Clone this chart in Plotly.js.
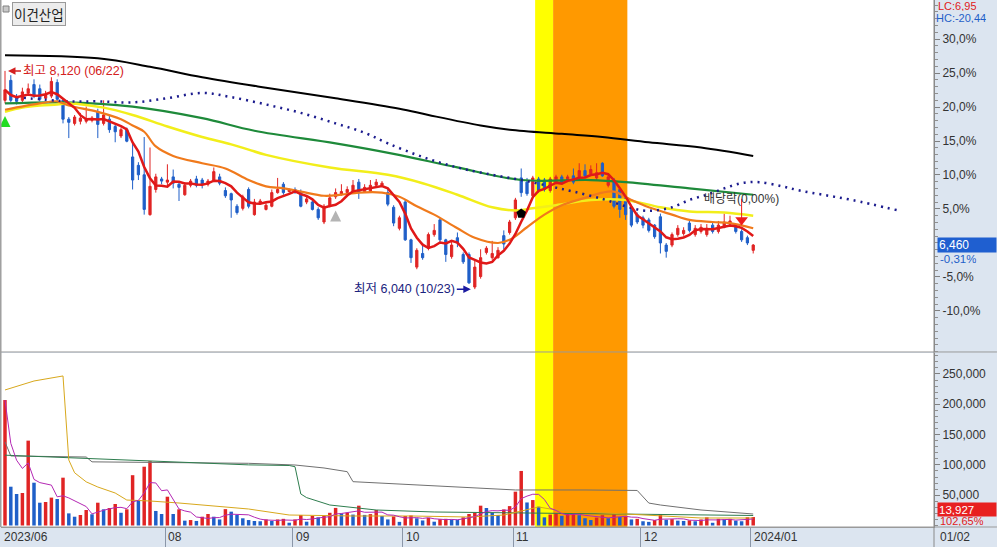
<!DOCTYPE html>
<html><head><meta charset="utf-8">
<script src="https://cdn.plot.ly/plotly-3.0.1.min.js"></script>
<style>html,body{margin:0;padding:0;background:#dce5f0;}#chart{width:997px;height:547px;}</style>
</head><body><div id="chart"></div>
<script>
// ---- data (daily candles, 2023-06-22 .. 2024-01-02, index 0..129) ----
const openP = [7840,8030,7870,7840,7910,7990,7950,7860,7880,8010,7840,7660,7620,7640,7640,7650,7730,7620,7660,7590,7500,7560,7300,7220,7130,6750,6990,7090,7060,7110,7040,6940,7030,7090,7080,7040,7080,7110,6980,6950,6830,6810,6990,6750,6860,6800,6830,6960,7040,6970,6990,6960,6870,6870,6800,6680,6840,6920,6940,6960,6960,7060,6970,6970,7030,7030,6960,6820,6620,6870,6510,6250,6380,6430,6560,6700,6510,6350,6530,6370,6370,6060,6160,6390,6340,6340,6550,6580,6720,7100,7060,6930,7090,7080,6980,7060,7110,7080,7120,7110,7170,7140,7100,7240,7030,7080,6990,6910,6820,6750,6720,6700,6650,6730,6460,6460,6560,6570,6670,6560,6590,6560,6650,6590,6630,6660,6640,6590,6530,6410];
const highP = [8120,8080,7900,7960,8000,8040,7990,7930,8060,8040,7860,7680,7700,7720,7780,7690,7760,7840,7690,7610,7580,7580,7430,7250,7490,7390,7140,7110,7230,7180,7060,7060,7090,7120,7100,7090,7200,7140,7010,6960,6850,6940,7010,6900,6900,6860,6990,7100,7060,7000,7010,6990,6920,6890,6820,6850,6950,7000,7040,7020,7080,7090,7040,7080,7090,7070,7000,6840,6740,6890,6520,6430,6480,6580,6660,6720,6520,6500,6580,6390,6390,6320,6420,6450,6500,6440,6600,6700,6910,7190,7100,7120,7110,7100,7110,7130,7130,7130,7190,7240,7230,7220,7240,7250,7130,7100,7000,6930,6840,6770,6740,6720,6660,6760,6480,6580,6650,6630,6690,6650,6660,6660,6680,6690,6760,6740,6660,6610,6550,6470];
const lowP = [7810,7820,7800,7810,7890,7860,7830,7840,7860,7830,7620,7480,7600,7610,7620,7630,7480,7600,7530,7440,7480,7440,6990,7080,6750,6740,6960,7040,7020,7000,6880,6930,7010,7010,7000,7020,7060,7030,6910,6720,6750,6790,6810,6740,6850,6790,6820,6950,6940,6960,6950,6820,6850,6790,6700,6660,6820,6900,6930,6950,6950,6900,6960,6960,7010,7020,6830,6640,6600,6500,6290,6230,6320,6410,6540,6490,6300,6330,6440,6280,6090,6040,6140,6370,6320,6330,6420,6560,6700,6920,6930,6920,6960,6970,6960,7040,7040,7060,7040,7100,7100,7120,7080,7110,7010,6810,6720,6700,6630,6660,6620,6580,6520,6380,6340,6440,6540,6550,6580,6540,6570,6540,6570,6570,6620,6640,6570,6490,6460,6380];
const closeP = [7940,7840,7830,7920,7950,7880,7850,7890,8020,7850,7660,7630,7680,7670,7660,7670,7610,7700,7560,7540,7560,7450,7080,7130,6800,7020,7110,7070,7080,7050,7010,7030,7070,7030,7040,7070,7160,7050,6930,6890,6770,6920,6830,6870,6880,6840,6960,6990,6960,6990,6960,6830,6900,6800,6720,6830,6910,6960,6970,6990,7030,6960,7010,7030,7060,7050,6850,6670,6720,6510,6340,6410,6340,6560,6600,6510,6370,6460,6480,6300,6100,6250,6340,6430,6380,6410,6470,6680,6890,6960,6950,7100,6980,6990,7090,7110,7060,7110,7060,7170,7120,7180,7150,7120,7110,6830,6800,6750,6650,6680,6650,6600,6540,6480,6400,6560,6620,6600,6600,6620,6630,6620,6590,6650,6680,6690,6590,6510,6480,6460];
const volume = [207000,64000,52000,53600,140000,70600,37600,38800,46000,43700,78900,20000,14500,17300,25600,18500,37600,26700,28900,35500,21000,26700,83000,41000,97000,106000,24000,19000,47500,19000,26700,8000,9000,7500,14500,19000,14500,10000,27000,22800,17300,11900,9000,7400,7000,10000,7400,10000,11000,4600,10000,17300,6300,15700,13500,15700,21000,29000,20000,21000,18000,32700,17500,18800,25600,15700,10000,15000,6000,15700,16500,11900,8300,12400,6300,10400,11000,10000,9500,13500,19000,21000,32700,28900,21000,17300,26500,32000,55800,90000,38000,42000,31000,13500,18000,20000,16000,19000,20000,17000,12000,9000,13000,17000,12000,18000,14000,15000,10000,11000,7000,6000,9000,19000,9500,10500,8000,7500,8500,7000,10000,13500,4500,11000,10000,11000,8000,7000,13600,13927];

// price moving averages (index, price)
const orangeIdx = [0,6,9,11,16,20,22,24,26,29,34,38,42,45,48,51,55,58,61,65,68,71,74,78,81,85,87,90,93,96,100,103,105,108,111,115,118,122,125,129];
const orangeVal = [7750,7810,7830,7790,7730,7660,7600,7540,7400,7310,7240,7190,7080,7020,7000,6970,6930,6940,6960,6960,6920,6830,6750,6620,6530,6480,6510,6630,6750,6840,6910,6960,6970,6890,6820,6750,6700,6680,6670,6620];
const yellowIdx = [0,3,6,9,11,17,22,28,34,39,42,45,56,66,72,78,84,88,91,95,101,107,113,118,124,129];
const yellowVal = [7730,7770,7790,7800,7810,7770,7700,7590,7490,7420,7370,7320,7200,7130,7050,6940,6820,6790,6810,6840,6890,6890,6820,6780,6770,6740];
const greenIdx = [0,10,22,34,43,57,67,78,89,101,107,118,129];
const greenVal = [7810,7820,7780,7670,7550,7430,7330,7200,7080,7080,7060,7000,6940];
const blackIdx = [0,16,25,34,45,57,68,73,82,87,96,103,111,120,129];
const blackVal = [8270,8240,8160,8060,7960,7860,7760,7700,7600,7560,7520,7490,7440,7390,7310];
const dotIdx = [2,11,16,22,28,34,39,45,51,57,62,66,72,78,84,89,94,98,103,107,110,112,115,118,121,124,127,130,134,137,141,146,154];
const dotVal = [7870,7830,7830,7820,7860,7910,7870,7800,7720,7620,7530,7430,7300,7200,7130,7080,7020,6970,6900,6830,6790,6790,6820,6890,6940,7000,7050,7060,7020,6980,6940,6890,6790];

// volume averages
const goldIdx = [0,3,5,10,11,12,14,16,19,21,25,30,34,39,42,49,60,70,80,86,89,92,95,100,107,113,120,129];
const goldVal = [223600,231800,238400,246700,108000,87000,72000,63500,53600,42000,40400,37100,33800,30500,27200,17300,15700,15700,14000,17300,24000,30500,25600,22300,19000,15700,12400,12400];
const gVolIdx = [0,14,42,49,50,51,52,56,64,74,89,110,129];
const gVolVal = [116000,111000,100000,99000,97000,52000,46000,33800,25600,22300,20600,19000,16500];
const greyIdx = [0,1,14,15,42,50,55,59,60,65,75,88,100,109,111,113,120,129];
const greyVal = [138000,114700,113000,105000,102600,99800,94900,88800,72300,70000,65000,58600,58600,57800,37000,33800,25600,19000];

// axis / labels
const basePrice = 6480;
const pctTicks = [30,25,20,15,10,5,-5,-10];
const volTicks = [50000,100000,150000,200000,250000];
const monthIdx = [0,28,50,69,88,110,129];
const monthLabels = ['2023/06','08','09','10','11','12','2024/01'];
const lastDateLabel = '01/02';
const highDate = '06/22', lowDate = '10/23';
const bandStart = [91.4, 94.5];
const bandEnd = [94.5, 107.3];
const bandColor = ['#ffff00', '#ff9900'];
const signalUp = {idx: 0, price: 7690};
const signalGrey = {idx: 57, price: 6790};
const signalDiamond = {idx: 89, price: 6760};
const exDiv = {idx: 127, price: 6700, label: '배당락(0,00%)'};
const prevVolRatio = 102.65;

// ---- build ----
const RED = '#e02424', BLUE = '#1f5fc8';
const idx = closeP.map((_, i) => i);
function sma(arr, n){return arr.map((_, i)=>{const s=Math.max(0,i-n+1);const w=arr.slice(s,i+1);return w.reduce((a,b)=>a+b,0)/w.length;});}
const fmtN = v => Math.round(v).toLocaleString('en-US');
const fmtD = (v,d) => v.toFixed(d).replace('.', ',');
const volColors = volume.map((v,i)=> (i===0 || v>=volume[i-1]) ? RED : BLUE);

const traces = [
 {type:'candlestick', x:idx, open:openP, high:highP, low:lowP, close:closeP, xaxis:'x', yaxis:'y',
  increasing:{line:{color:RED,width:1}, fillcolor:RED}, decreasing:{line:{color:BLUE,width:1}, fillcolor:BLUE},
  whiskerwidth:0, hoverinfo:'skip'},
 {type:'scatter', mode:'lines', x:blackIdx, y:blackVal, line:{color:'#000',width:2,shape:'spline'}, yaxis:'y'},
 {type:'scatter', mode:'lines', x:greenIdx, y:greenVal, line:{color:'#1e8a3a',width:2.2,shape:'spline'}, yaxis:'y'},
 {type:'scatter', mode:'lines', x:yellowIdx, y:yellowVal, line:{color:'#f2ee1a',width:2.5,shape:'spline'}, yaxis:'y'},
 {type:'scatter', mode:'lines', x:orangeIdx, y:orangeVal, line:{color:'#f07a1c',width:2.2,shape:'spline'}, yaxis:'y'},
 {type:'scatter', mode:'lines', x:dotIdx, y:dotVal, line:{color:'#1c1c8e',width:2.5,dash:'2px,5px',shape:'spline'}, yaxis:'y'},
 {type:'scatter', mode:'lines', x:idx, y:sma(closeP,5), line:{color:'#e01818',width:2.5}, yaxis:'y'},
 {type:'scatter', mode:'markers', x:[signalUp.idx], y:[signalUp.price], marker:{symbol:'arrow-up',size:11,color:'#22dd22'}, yaxis:'y'},
 {type:'scatter', mode:'markers', x:[signalGrey.idx], y:[signalGrey.price], marker:{symbol:'arrow-up',size:11,color:'#b4b4b4'}, yaxis:'y'},
 {type:'scatter', mode:'markers', x:[signalDiamond.idx], y:[signalDiamond.price], marker:{symbol:'pentagon',size:10,color:'#000'}, yaxis:'y'},
 {type:'scatter', mode:'markers', x:[exDiv.idx], y:[exDiv.price], marker:{symbol:'triangle-down',size:11,color:'#ee1c1c'}, yaxis:'y'},
 {type:'bar', x:idx, y:volume, marker:{color:volColors,line:{width:0}}, xaxis:'x', yaxis:'y2', hoverinfo:'skip'},
 {type:'scatter', mode:'lines', x:greyIdx, y:greyVal, line:{color:'#707070',width:1}, yaxis:'y2'},
 {type:'scatter', mode:'lines', x:gVolIdx, y:gVolVal, line:{color:'#2e7d4e',width:1}, yaxis:'y2'},
 {type:'scatter', mode:'lines', x:goldIdx, y:goldVal, line:{color:'#d8a81c',width:1}, yaxis:'y2'},
 {type:'scatter', mode:'lines', x:idx, y:sma(volume,5), line:{color:'#b428b4',width:1}, yaxis:'y2'}
];

const lastClose = closeP[closeP.length-1];
const prevClose = closeP[closeP.length-2];
const maxHigh = Math.max(...highP), minLow = Math.min(...lowP);
const maxI = highP.indexOf(maxHigh), minI = lowP.indexOf(minLow);
const FONT = 'Liberation Sans, Noto Sans CJK KR, sans-serif';

const shapes = [];
bandStart.forEach((s,k)=>shapes.push({type:'rect',xref:'x',yref:'paper',x0:s,x1:bandEnd[k],y0:0,y1:1,fillcolor:bandColor[k],line:{width:0},layer:'below'}));
shapes.push({type:'line',xref:'paper',yref:'paper',x0:0,x1:1.0675,y0:0.3321,y1:0.3321,line:{color:'#9a9a9a',width:1}});
shapes.push({type:'line',xref:'paper',yref:'paper',x0:0,x1:1.0675,y0:0,y1:0,line:{color:'#9a9a9a',width:1}});
shapes.push({type:'line',xref:'paper',yref:'paper',x0:1,x1:1,y0:-0.04,y1:1,line:{color:'#8a8a8a',width:1}});
shapes.push({type:'line',xref:'paper',yref:'paper',x0:-0.0005,x1:-0.0005,y0:0,y1:1,line:{color:'#a0a0a0',width:2}});
shapes.push({type:'rect',xref:'paper',yref:'paper',x0:0.0022,x1:0.0086,y0:0.9772,y1:0.9886,fillcolor:'#c8c8c8',line:{color:'#808080',width:1}});
shapes.push({type:'line',xref:'x',yref:'y',x0:exDiv.idx,x1:exDiv.idx,y0:exDiv.price,y1:exDiv.price+200,line:{color:'#ee1c1c',width:1}});

const ann = [];
monthLabels.forEach((t,k)=>ann.push({xref:'x',yref:'paper',x:monthIdx[k],y:0,xanchor:'left',yanchor:'top',xshift:(k===0?-3:-1),yshift:-1,text:t,showarrow:false,font:{family:FONT,size:12,color:'#333'}}));
ann.push({xref:'paper',yref:'paper',x:1,y:0,xanchor:'left',yanchor:'top',xshift:4,yshift:-1,text:lastDateLabel,showarrow:false,font:{family:FONT,size:12,color:'#333'}});
ann.push({xref:'paper',yref:'paper',x:0,y:1,xanchor:'left',yanchor:'top',xshift:11,yshift:-2,text:'이건산업',showarrow:false,bgcolor:'#ececec',bordercolor:'#9a9a9a',borderwidth:1,borderpad:1,font:{family:'Noto Sans CJK KR',size:13.5,color:'#222'}});
ann.push({xref:'x',yref:'y',x:maxI,y:maxHigh,ax:68,ay:0,text:'최고 '+fmtN(maxHigh)+' ('+highDate+')',showarrow:true,arrowhead:2,arrowsize:1,arrowwidth:1.5,arrowcolor:'#d42020',standoff:3,font:{family:FONT,size:12.5,color:'#d42020'}});
ann.push({xref:'x',yref:'y',x:minI,y:minLow,ax:-70,ay:0,text:'최저 '+fmtN(minLow)+' ('+lowDate+')',showarrow:true,arrowhead:2,arrowsize:1,arrowwidth:1.5,arrowcolor:'#1a1aa0',standoff:4,font:{family:FONT,size:12.5,color:'#1a237e'}});
ann.push({xref:'x',yref:'y',x:exDiv.idx,y:exDiv.price+200,yanchor:'middle',text:exDiv.label,showarrow:false,font:{family:FONT,size:12,color:'#333'}});
ann.push({xref:'paper',yref:'paper',x:1,y:1,xanchor:'left',yanchor:'top',xshift:2,yshift:2,text:'LC:'+fmtD((lastClose/minLow-1)*100,2),showarrow:false,height:11,font:{family:FONT,size:11,color:'#e02020'}});
ann.push({xref:'paper',yref:'paper',x:1,y:1,xanchor:'left',yanchor:'top',xshift:0,yshift:-10,text:'HC:'+fmtD((lastClose/maxHigh-1)*100,2),showarrow:false,height:11,font:{family:FONT,size:11,color:'#1f5fc8'}});
ann.push({xref:'paper',yref:'y',x:1,y:lastClose,xanchor:'left',yanchor:'middle',xshift:3,text:fmtN(lastClose),showarrow:false,bgcolor:'#1f5fd0',width:56,height:12,align:'left',font:{family:FONT,size:12,color:'#fff'}});
ann.push({xref:'paper',yref:'y',x:1,y:lastClose,xanchor:'left',yanchor:'middle',xshift:4,yshift:-13,text:fmtD((lastClose/prevClose-1)*100,2)+'%',showarrow:false,height:11,font:{family:FONT,size:11.5,color:'#1f5fc8'}});
const lastVol = volume[volume.length-1];
ann.push({xref:'paper',yref:'y2',x:1,y:lastVol,xanchor:'left',yanchor:'middle',xshift:3,yshift:8,text:fmtN(lastVol),showarrow:false,bgcolor:'#e82020',width:56,height:11,align:'left',font:{family:FONT,size:11.5,color:'#fff'}});
ann.push({xref:'paper',yref:'y2',x:1,y:lastVol,xanchor:'left',yanchor:'middle',xshift:4,yshift:-4,text:fmtD(prevVolRatio,2)+'%',showarrow:false,height:10,font:{family:FONT,size:11,color:'#e02020'}});

const layout = {
 width:997, height:547, margin:{l:1,r:63,t:0,b:20},
 paper_bgcolor:'#dce5f0', plot_bgcolor:'#ffffff', showlegend:false, hovermode:false,
 boxgap:0.45, bargap:0.4,
 font:{family:FONT,size:12,color:'#333'},
 xaxis:{range:[-0.69,160.17], anchor:'y2', rangeslider:{visible:false}, showgrid:false, zeroline:false,
   tickmode:'array', tickvals:monthIdx.slice(1).map(v=>v-0.4), ticks:'outside', ticklen:19, tickcolor:'#8a96a8',
   showticklabels:false, showline:true, linecolor:'#9a9a9a'},
 yaxis:{domain:[0.3321,1], side:'right', anchor:'x', range:[5441,8796], showgrid:false, zeroline:false,
   tickmode:'array', tickvals:pctTicks.map(k=>basePrice*(1+k/100)), ticktext:pctTicks.map(k=>fmtD(k,1)+'%'),
   ticks:'outside', ticklen:5, tickcolor:'#808080', showline:true, linecolor:'#8a8a8a',
   minor:{tickmode:'linear', tick0:basePrice, dtick:basePrice/100, ticks:'outside', ticklen:3, tickcolor:'#909090'},
   tickfont:{family:FONT,size:12,color:'#333'}},
 yaxis2:{domain:[0,0.3302], side:'right', anchor:'x', range:[-2475,284600], showgrid:false, zeroline:false,
   tickmode:'array', tickvals:volTicks, ticktext:volTicks.map(fmtN), ticks:'outside', ticklen:5, tickcolor:'#808080',
   showline:true, linecolor:'#8a8a8a',
   minor:{tickmode:'linear', tick0:0, dtick:10000, ticks:'outside', ticklen:3, tickcolor:'#909090'},
   tickfont:{family:FONT,size:12,color:'#333'}},
 shapes:shapes, annotations:ann
};
Plotly.newPlot('chart', traces, layout, {staticPlot:true, displayModeBar:false});
</script>
</body></html>
